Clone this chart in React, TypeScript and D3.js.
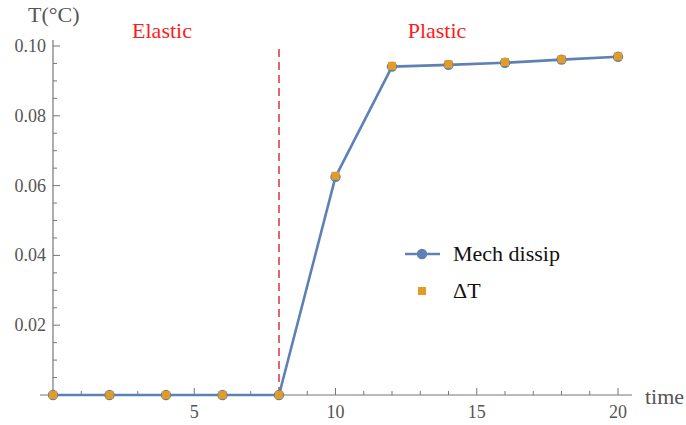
import React from "react";
import * as d3 from "d3";

const times = [0, 2, 4, 6, 8, 10, 12, 14, 16, 18, 20];
const mechDissip = [0, 0, 0, 0, 0, 0.0625, 0.0941, 0.0946, 0.0952, 0.0961, 0.0969];
const deltaT = [0, 0, 0, 0, 0, 0.0628, 0.0943, 0.0948, 0.0954, 0.0962, 0.0970];
const xMajor = [5, 10, 15, 20];
const yMajor = [0.02, 0.04, 0.06, 0.08, 0.1];
const boundaryTime = 8;
const seriesNames = ["Mech dissip", "ΔT"];

const W = 686, H = 425;
const FONT = "'Liberation Serif', 'Times New Roman', serif";

export default function App() {
  const x = d3.scaleLinear().domain([0, 20]).range([53, 618]);
  const y = d3.scaleLinear().domain([0, 0.1]).range([395, 46]);
  const line = d3.line<number>().x((_, i) => x(times[i])).y((d) => y(d));
  const xMinor = d3.range(1, 21).filter((v) => v % 5 !== 0);
  const yMinor = d3.range(1, 20).map((v) => v * 0.005).filter((v) => Math.round(v * 1000) % 20 !== 0);
  const axisColor = "#777";
  const labelColor = "#555";
  const ts = { fontFamily: FONT };
  return (
    <svg width={W} height={H} style={{ position: "absolute", left: 0, top: 0 }}>
      {/* axes */}
      <line x1={40} x2={632} y1={y(0)} y2={y(0)} stroke={axisColor} strokeWidth={1.2} />
      <line x1={x(0)} x2={x(0)} y1={y(0)} y2={40} stroke={axisColor} strokeWidth={1.2} />
      {xMajor.map((v) => (
        <g key={"xm" + v}>
          <line x1={x(v)} x2={x(v)} y1={y(0)} y2={y(0) - 7} stroke={axisColor} />
          <text style={ts} x={x(v)} y={y(0) + 23} textAnchor="middle" fontSize={18} fill={labelColor}>{v}</text>
        </g>
      ))}
      {xMinor.map((v) => (
        <line key={"xn" + v} x1={x(v)} x2={x(v)} y1={y(0)} y2={y(0) - 4} stroke={axisColor} />
      ))}
      {yMajor.map((v) => (
        <g key={"ym" + v}>
          <line x1={x(0)} x2={x(0) + 7} y1={y(v)} y2={y(v)} stroke={axisColor} />
          <text style={ts} x={x(0) - 7} y={y(v) + 6} textAnchor="end" fontSize={18} fill={labelColor}>{v.toFixed(2)}</text>
        </g>
      ))}
      {yMinor.map((v) => (
        <line key={"yn" + v} x1={x(0)} x2={x(0) + 4} y1={y(v)} y2={y(v)} stroke={axisColor} />
      ))}
      <text style={ts} x={28} y={22} fontSize={22} fill={labelColor}>T(°C)</text>
      <text style={ts} x={645} y={404} fontSize={22} fill={labelColor}>time</text>
      {/* boundary */}
      <line x1={x(boundaryTime)} x2={x(boundaryTime)} y1={y(0)} y2={44} stroke="#d9252b" strokeWidth={1.4} strokeDasharray="8,5" />
      <text style={ts} x={162} y={38} textAnchor="middle" fontSize={22} fill="#ff1a1a">Elastic</text>
      <text style={ts} x={437} y={38} textAnchor="middle" fontSize={22} fill="#ff1a1a">Plastic</text>
      {/* series */}
      <path d={line(mechDissip) || ""} fill="none" stroke="#5e81b5" strokeWidth={2.6} strokeLinejoin="round" />
      {mechDissip.map((v, i) => (
        <circle key={"c" + i} cx={x(times[i])} cy={y(v)} r={5.2} fill="#5e81b5" />
      ))}
      {deltaT.map((v, i) => (
        <rect key={"s" + i} x={x(times[i]) - 4} y={y(v) - 4} width={8} height={8} fill="#e19c24" />
      ))}
      {/* legend */}
      <line x1={405} x2={440} y1={254} y2={254} stroke="#5e81b5" strokeWidth={2.6} />
      <circle cx={422} cy={254} r={5.2} fill="#5e81b5" />
      <text style={ts} x={453} y={261} fontSize={22} fill="#111">{seriesNames[0]}</text>
      <rect x={418} y={287} width={8} height={8} fill="#e19c24" />
      <text style={ts} x={453} y={298} fontSize={22} fill="#111">{seriesNames[1]}</text>
    </svg>
  );
}
